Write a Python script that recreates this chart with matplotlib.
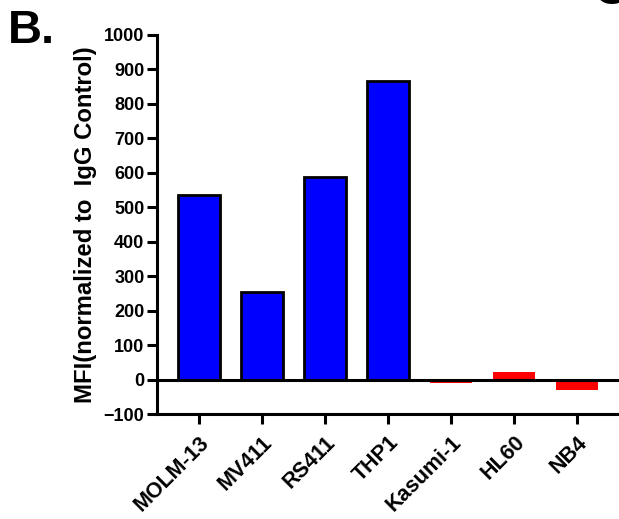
import numpy as np
import matplotlib.pyplot as plt

plt.rcParams['font.family'] = ['Liberation Sans', 'DejaVu Sans']
plt.rcParams['font.weight'] = 'bold'

cells = ['MOLM-13', 'MV411', 'RS411', 'THP1', 'Kasumi-1', 'HL60', 'NB4']
mfi = [535, 255, 588, 865, -11, 21, -29]
colors = ['#0000ff'] * 4 + ['#ff0000'] * 3
edges = ['black'] * 4 + ['none'] * 3

fig = plt.figure(figsize=(6.19, 5.19), dpi=100)
ax = fig.add_axes([0.2536, 0.2023, 0.7464, 0.7303])

x = np.arange(len(cells))
ax.bar(x, mfi, width=0.66, color=colors, edgecolor=edges, linewidth=2, zorder=2)
ax.axhline(0, color='black', lw=2.2, zorder=3)

ax.set_xlim(-0.667, 6.667)
ax.set_ylim(-100, 1000)
ax.set_yticks(np.arange(-100, 1001, 100))
ax.set_xticks(x)
ax.set_xticklabels(cells, rotation=45, ha='right', rotation_mode='anchor', fontsize=15.5, fontweight='bold')
for lab in ax.get_yticklabels():
    lab.set_fontsize(13)
    lab.set_fontweight('bold')

ax.spines['top'].set_visible(False)
ax.spines['right'].set_visible(False)
ax.spines['left'].set_linewidth(2.2)
ax.spines['bottom'].set_linewidth(2.2)
ax.tick_params(axis='both', width=2.2, length=7, direction='out', pad=2)
ax.tick_params(axis='x', pad=6)

ax.set_ylabel('MFI(normalized to  IgG Control)', fontsize=17.2, fontweight='bold', labelpad=5)

fig.text(0.012, 0.917, 'B.', fontsize=34, fontweight='bold')
fig.text(0.958, 0.993, 'C', fontsize=34, fontweight='bold', va='baseline')

fig.savefig('out.png', dpi=100)
